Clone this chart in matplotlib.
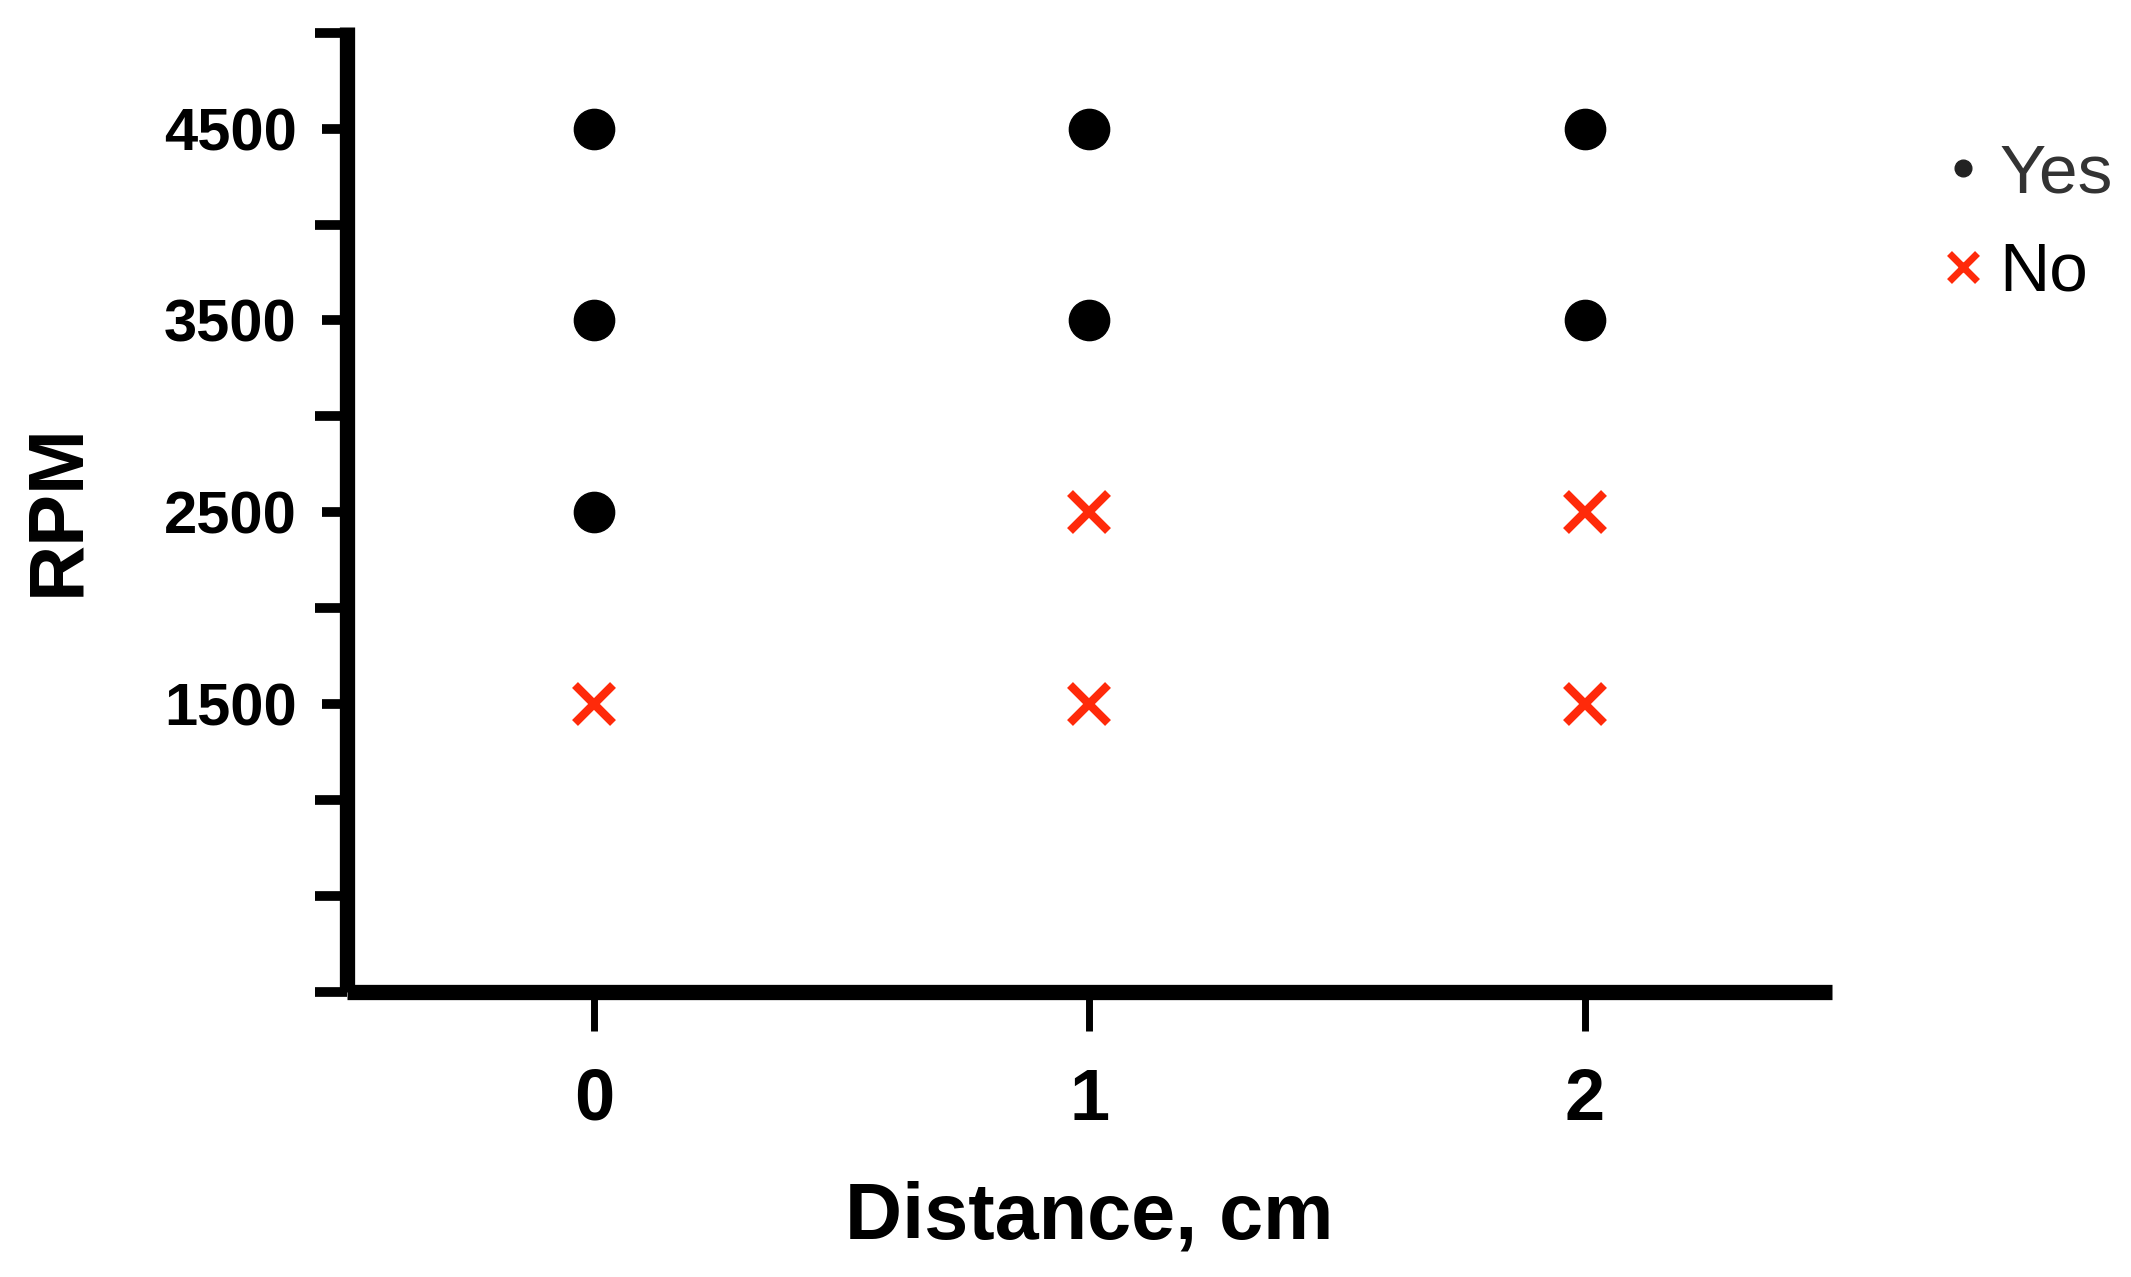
import matplotlib.pyplot as plt
from matplotlib.lines import Line2D

# Data: did it work at a given distance / RPM?
distance = [0, 1, 2]
rpm_levels = [1500, 2500, 3500, 4500]

yes_dist = [0, 0, 0, 1, 1, 2, 2]
yes_rpm = [2500, 3500, 4500, 3500, 4500, 3500, 4500]
no_dist = [0, 1, 1, 2, 2]
no_rpm = [1500, 1500, 2500, 1500, 2500]

red = '#ff2a0a'
bold_font = ['Liberation Sans', 'DejaVu Sans']

fig = plt.figure(figsize=(21.31, 12.77), dpi=100)
ax = fig.add_axes([0.1628, 0.2232, 0.8597 - 0.1628, 0.9789 - 0.2232])

ax.plot(yes_dist, yes_rpm, 'o', color='black', markersize=29, linestyle='none')
ax.plot(no_dist, no_rpm, 'x', color=red, markersize=27, markeredgewidth=6, linestyle='none')

ax.set_xlim(-0.5, 2.5)
ax.set_ylim(0, 5030)

# spines
for s in ['top', 'right']:
    ax.spines[s].set_visible(False)
for s in ['left', 'bottom']:
    ax.spines[s].set_linewidth(11)
    ax.spines[s].set_capstyle('butt')

# ticks
ax.set_xticks(distance)
ax.set_xticklabels([str(d) for d in distance], fontsize=52, fontweight='bold', family=bold_font)
ax.set_yticks(rpm_levels)
ax.set_yticklabels([str(r) for r in rpm_levels], fontsize=43, fontweight='bold', family=bold_font)
ax.set_yticks([0, 500, 1000, 2000, 3000, 4000, 5000], minor=True)
ax.tick_params(axis='x', length=28, width=5, pad=26)
ax.tick_params(axis='y', which='major', length=18, width=7, pad=18)
ax.tick_params(axis='y', which='minor', length=23, width=7)

ax.set_xlabel('Distance, cm', fontsize=57, fontweight='bold', family=bold_font, labelpad=33)
ax.set_ylabel('RPM', fontsize=56, fontweight='bold', family=bold_font, labelpad=50)

# legend outside the axes, top right
handles = [Line2D([], [], marker='o', color='#222222', linestyle='none', markersize=12),
           Line2D([], [], marker='x', color=red, linestyle='none', markersize=20, markeredgewidth=5)]
leg = fig.legend(handles, ['Yes', 'No'], loc='center left', bbox_to_anchor=(0.9146, 0.825),
                 frameon=False, handlelength=0.4, handletextpad=0.33,
                 labelspacing=0.5, borderpad=0, borderaxespad=0, prop={'family': bold_font, 'size': 50})
leg.get_texts()[0].set_color('#333333')

fig.savefig('out.png', dpi=100)
